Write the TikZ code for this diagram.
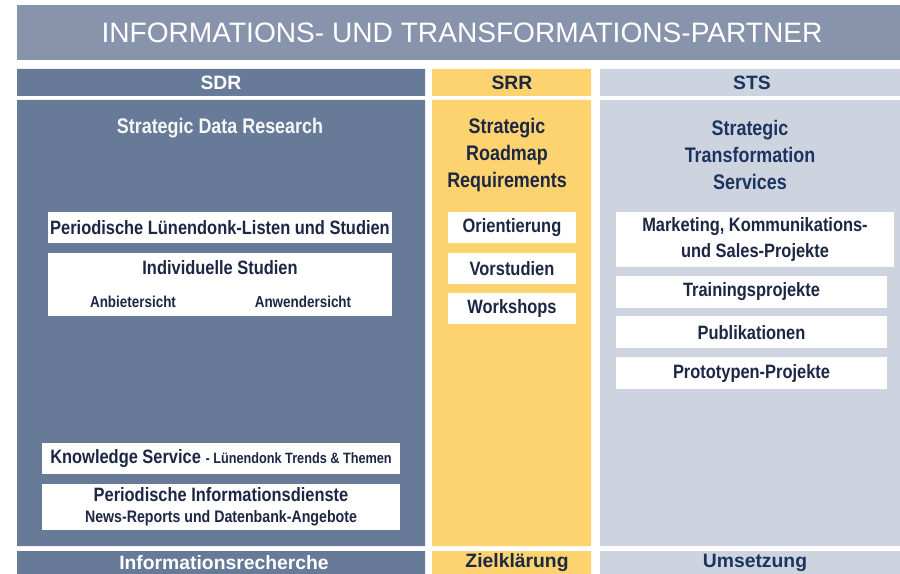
\documentclass[tikz,border=0pt]{standalone}
\usepackage{fontspec}
\setmainfont{Liberation Sans}
\newfontfamily\narrowsf[FakeStretch=0.85]{Liberation Sans}
\usetikzlibrary{positioning}
\definecolor{cBand}{HTML}{8794AC}
\definecolor{cSdr}{HTML}{677A97}
\definecolor{cSrr}{HTML}{FCD36F}
\definecolor{cSts}{HTML}{CED4DF}
\definecolor{cInk}{HTML}{1D2744}
\definecolor{cNavy}{HTML}{1B3560}

\begin{document}
\begin{tikzpicture}[x=0.02cm,y=-0.02cm,
   wbox/.style={fill=white,inner sep=0pt,align=center,text=cInk,
                font=\narrowsf\bfseries\fontsize{11}{14.5}\selectfont},
   coltitle/.style={align=center,inner sep=0pt,font=\narrowsf\bfseries\fontsize{12}{15.4}\selectfont},
   bar/.style={inner sep=0pt,font=\bfseries\fontsize{11}{13}\selectfont},
   small/.style={inner sep=0pt,text=cInk,font=\narrowsf\bfseries\fontsize{9}{11}\selectfont}]
  \useasboundingbox (0,0) rectangle (900,574);
  \fill[cBand] (17,5) rectangle (900,60);
  \node[text=white,font=\fontsize{16}{19}\selectfont,anchor=base] (title) at (462,43)
     {INFORMATIONS- UND TRANSFORMATIONS-PARTNER};
  % columns: header bar, body, footer bar
  \fill[cSdr] (17,69) rectangle (425,96) (17,100) rectangle (425,546) (17,551) rectangle (425,574);
  \fill[cSrr] (432,69) rectangle (591,96) (432,100) rectangle (591,546) (432,551) rectangle (591,574);
  \fill[cSts] (600,69) rectangle (900,96) (600,100) rectangle (900,546) (600,551) rectangle (900,574);
  \node[bar,text=white] (sdr) at (221,83) {SDR};
  \node[bar,text=cInk] (srr) at (512,83) {SRR};
  \node[bar,text=cNavy] (sts) at (752,83) {STS};
  \node[coltitle,text=white!94!cSdr] (sdrtitle) at (220,128) {Strategic Data Research};
  \node[coltitle,text=cInk] (srrtitle) at (507,155) {Strategic\\Roadmap\\Requirements};
  \node[coltitle,text=cNavy] (ststitle) at (750,155) {Strategic\\Transformation\\Services};
  % SDR
  \node[wbox,minimum width=6.88cm,minimum height=0.62cm] (listen) at (220,227.5)
     {Periodische Lünendonk-Listen und Studien};
  \node[wbox,minimum width=6.88cm,minimum height=1.26cm,below=0.18cm of listen] (indiv) {};
  \node[wbox,fill=none] (indivtitle) at (220,268) {Individuelle Studien};
  \node[small] (anbieter) at (133,302) {Anbietersicht};
  \node[small] (anwender) at (303,302) {Anwendersicht};
  \node[wbox,minimum width=7.16cm,minimum height=0.62cm] (knowledge) at (221,458.5)
     {Knowledge Service {\fontsize{8.5}{10}\selectfont- Lünendonk Trends \& Themen}};
  \node[wbox,minimum width=7.16cm,minimum height=0.92cm,below=0.18cm of knowledge] (dienste)
     {Periodische Informationsdienste\\[-2.5pt]{\fontsize{9.5}{11}\selectfont News-Reports und Datenbank-Angebote}};
  % SRR
  \node[wbox,minimum width=2.56cm,minimum height=0.62cm] (orient) at (512,227.5) {Orientierung};
  \node[wbox,minimum width=2.56cm,minimum height=0.62cm,below=0.18cm of orient] (vorstudien) {Vorstudien};
  \node[wbox,minimum width=2.56cm,minimum height=0.62cm,below=0.18cm of vorstudien] (workshops) {Workshops};
  % STS
  \node[wbox,minimum width=5.56cm,minimum height=1.1cm] (marketing) at (755,239.5)
     {Marketing, Kommunikations-\\und Sales-Projekte};
  \node[wbox,minimum width=5.42cm,minimum height=0.64cm,anchor=north west] (training)
     at ([yshift=-0.16cm]marketing.south west) {Trainingsprojekte};
  \node[wbox,minimum width=5.42cm,minimum height=0.64cm,below=0.16cm of training] (publikationen) {Publikationen};
  \node[wbox,minimum width=5.42cm,minimum height=0.64cm,below=0.16cm of publikationen] (prototypen) {Prototypen-Projekte};
  \node[bar,text=white] (recherche) at (224,563) {Informationsrecherche};
  \node[bar,text=cInk] (ziel) at (517,563) {Zielklärung};
  \node[bar,text=cNavy] (umsetzung) at (755,563) {Umsetzung};
\end{tikzpicture}
\end{document}
